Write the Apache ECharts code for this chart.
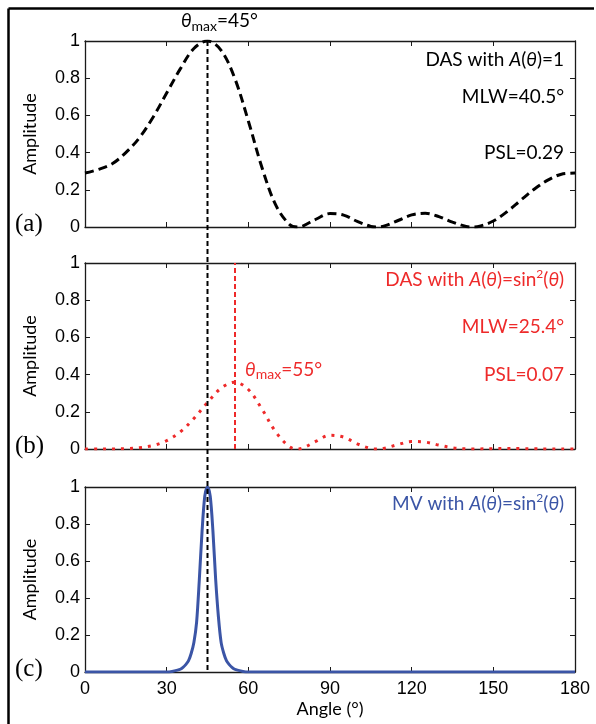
<!DOCTYPE html>
<html><head><meta charset="utf-8">
<script src="https://cdn.jsdelivr.net/npm/echarts@6/dist/echarts.min.js"></script>
<style>html,body{margin:0;padding:0;background:#fff}#c{width:596px;height:724px}</style>
</head><body><div id="c"></div>
<script>
// ---- data ----
const xTicks = [0, 30, 60, 90, 120, 150, 180];
const yTicks = [0, 0.2, 0.4, 0.6, 0.8, 1];
const degA = [0,5,10,15,20,25,30,35,40,45,50,55,60,65,70,75,78,80,85,90,95,100,105,107,110,115,120,125,130,135,140,142.5,145,150,155,160,165,170,175,180];
const ampA = [0.29,0.31,0.34,0.40,0.48,0.59,0.72,0.85,0.96,1.00,0.95,0.80,0.57,0.32,0.12,0.015,0,0.005,0.043,0.072,0.064,0.030,0.003,0,0.006,0.035,0.065,0.074,0.056,0.026,0.003,0,0.004,0.032,0.082,0.143,0.203,0.252,0.284,0.29];
const degB = [0,5,10,15,20,25,30,35,40,45,50,55,60,65,70,75,78,80,85,90,95,100,105,107,110,115,120,125,130,135,140,142.5,145,150,155,160,165,170,175,180];
const ampB = [0,0,0.0003,0.002,0.007,0.019,0.045,0.092,0.164,0.25,0.327,0.359,0.320,0.215,0.093,0.013,0,0.005,0.042,0.074,0.064,0.028,0.0025,0,0.0045,0.024,0.040,0.037,0.021,0.0065,0.0006,0,0.0004,0.002,0.0026,0.002,0.0009,0.0002,0,0];
const degC = [0,10,20,30,32,34,35,36,37,38,39,40,41,42,43,44,45,46,47,48,49,50,51,52,53,54,55,56,58,60,70,80,90,100,110,120,130,140,150,160,170,180];
const ampC = [0,0,0,0,0.003,0.01,0.015,0.025,0.04,0.06,0.10,0.16,0.27,0.50,0.76,0.95,1.0,0.95,0.76,0.50,0.30,0.16,0.10,0.06,0.04,0.025,0.015,0.01,0.003,0,0,0,0,0,0,0,0,0,0,0,0,0];
const peakA = 45, peakB = 55;

// ---- chart ----
const chart = echarts.init(document.getElementById('c'), null, {renderer: 'canvas'});
const AX = '#1a1a1a';
const RED = '#ee2a2a', BLUE = '#3b55a6';
const grids = [
  {left: 85, top: 41, width: 490, height: 186},
  {left: 85, top: 263, width: 490, height: 186},
  {left: 85, top: 487, width: 490, height: 185}
];
function xAx(i, pos, showLabels) {
  const a = {type: 'value', gridIndex: i, position: pos, min: xTicks[0], max: xTicks[xTicks.length-1], interval: xTicks[1]-xTicks[0],
    axisLine: {show: true, onZero: false, lineStyle: {color: AX, width: 1.3}},
    axisTick: {show: true, inside: true, length: 5, lineStyle: {color: AX}},
    axisLabel: {show: showLabels, color: '#000', fontFamily: 'Liberation Sans', fontSize: 18, margin: 8},
    splitLine: {show: false}};
  if (i === 2 && pos === 'bottom') {
    a.name = 'Angle (°)'; a.nameLocation = 'middle'; a.nameGap = 28;
    a.nameTextStyle = {fontFamily: 'Lato', fontSize: 18, color: '#000'};
  }
  return a;
}
function yAx(i, pos, showLabels) {
  const a = {type: 'value', gridIndex: i, position: pos, min: yTicks[0], max: yTicks[yTicks.length-1], interval: yTicks[1]-yTicks[0],
    axisLine: {show: true, onZero: false, lineStyle: {color: AX, width: 1.3}},
    axisTick: {show: true, inside: true, length: 5, lineStyle: {color: AX}},
    axisLabel: {show: showLabels, color: '#000', fontFamily: 'Liberation Sans', fontSize: 18, margin: 5},
    splitLine: {show: false}};
  if (pos === 'left') {
    a.name = 'Amplitude'; a.nameLocation = 'middle'; a.nameGap = 46; a.nameRotate = 90;
    a.nameTextStyle = {fontFamily: 'Lato', fontSize: 18, color: '#000'};
  }
  return a;
}
const zip = (xs, ys) => xs.map((x, k) => [x, ys[k]]);

chart.setOption({
  animation: false,
  backgroundColor: '#fff',
  grid: grids,
  xAxis: [xAx(0,'bottom',false), xAx(1,'bottom',false), xAx(2,'bottom',true), xAx(0,'top',false), xAx(1,'top',false), xAx(2,'top',false)],
  yAxis: [yAx(0,'left',true), yAx(1,'left',true), yAx(2,'left',true), yAx(0,'right',false), yAx(1,'right',false), yAx(2,'right',false)],
  series: [
    {type: 'line', xAxisIndex: 0, yAxisIndex: 0, data: zip(degA, ampA), showSymbol: false, smooth: 0.35, z: 3,
      lineStyle: {color: '#000', width: 3, type: [9, 5]}},
    {type: 'line', xAxisIndex: 1, yAxisIndex: 1, data: zip(degB, ampB), showSymbol: false, smooth: 0.35, z: 3,
      lineStyle: {color: RED, width: 3, type: [3, 6]},
      markLine: {silent: true, symbol: 'none', label: {show: false}, lineStyle: {color: RED, width: 2, type: [5, 3]}, data: [{xAxis: peakB}]}},
    {type: 'line', xAxisIndex: 2, yAxisIndex: 2, data: zip(degC, ampC), showSymbol: false, smooth: 0.3, z: 3,
      lineStyle: {color: BLUE, width: 3}}
  ]
});

// ---- annotations placed through the axes ----
const px = (i, x, y) => chart.convertToPixel({xAxisIndex: i, yAxisIndex: i}, [x, y]);
const xPeak = chart.convertToPixel({xAxisIndex: 0}, peakA);
const yTop = chart.convertToPixel({yAxisIndex: 0}, 1);
const yBot = chart.convertToPixel({yAxisIndex: 2}, 0);
const annFont = 'Lato';
function rich(color) {
  return {
    i: {fontStyle: 'italic', fontFamily: annFont, fontSize: 19, color: color, lineHeight: 24},
    n: {fontFamily: annFont, fontSize: 19, color: color, lineHeight: 24},
    sub: {fontFamily: annFont, fontSize: 14, color: color, lineHeight: 24, verticalAlign: 'bottom'},
    sup: {fontFamily: annFont, fontSize: 12, color: color, lineHeight: 24, verticalAlign: 'top'}
  };
}
function txt(pos, text, color, align) {
  return {type: 'text', x: pos[0], y: pos[1], z: 50,
    style: {text: text, rich: rich(color), align: align, verticalAlign: 'middle', fill: color, font: '19px ' + annFont}};
}
const gr = [];
// frame
gr.push({type: 'line', shape: {x1: 8.5, y1: 8.5, x2: 594, y2: 8.5}, style: {stroke: '#000', lineWidth: 2.5}, z: 60});
gr.push({type: 'line', shape: {x1: 8.5, y1: 8.5, x2: 8.5, y2: 724}, style: {stroke: '#000', lineWidth: 2.5}, z: 60});
// black dashed line through all panels
gr.push({type: 'line', shape: {x1: xPeak, y1: yTop, x2: xPeak, y2: yBot}, style: {stroke: '#000', lineWidth: 2, lineDash: [5, 3]}, z: 40});
// texts
gr.push(txt(px(0, 49.4, 1.107), '{i|θ}{sub|max}{n|=45°}', '#000', 'center'));
gr.push(txt(px(0, 176, 0.90), '{n|DAS with }{i|A}{n|(}{i|θ}{n|)=1}', '#000', 'right'));
gr.push(txt(px(0, 176, 0.70), '{n|MLW=40.5°}', '#000', 'right'));
gr.push(txt(px(0, 176, 0.40), '{n|PSL=0.29}', '#000', 'right'));
gr.push(txt(px(1, 176, 0.91), '{n|DAS with }{i|A}{n|(}{i|θ}{n|)=sin}{sup|2}{n|(}{i|θ}{n|)}', RED, 'right'));
gr.push(txt(px(1, 176, 0.655), '{n|MLW=25.4°}', RED, 'right'));
gr.push(txt(px(1, 176, 0.40), '{n|PSL=0.07}', RED, 'right'));
gr.push(txt(px(1, 58.8, 0.425), '{i|θ}{sub|max}{n|=55°}', RED, 'left'));
gr.push(txt(px(2, 176, 0.91), '{n|MV with }{i|A}{n|(}{i|θ}{n|)=sin}{sup|2}{n|(}{i|θ}{n|)}', BLUE, 'right'));
// panel letters
const letters = [['(a)', 0], ['(b)', 1], ['(c)', 2]];
letters.forEach(([t, i]) => {
  const p = px(i, 0, 0.03);
  gr.push({type: 'text', x: 15, y: p[1] + 3, z: 50, style: {text: t, font: '25px "Liberation Serif"', fill: '#000', verticalAlign: 'middle', align: 'left'}});
});
chart.setOption({graphic: gr});
</script>
</body></html>
